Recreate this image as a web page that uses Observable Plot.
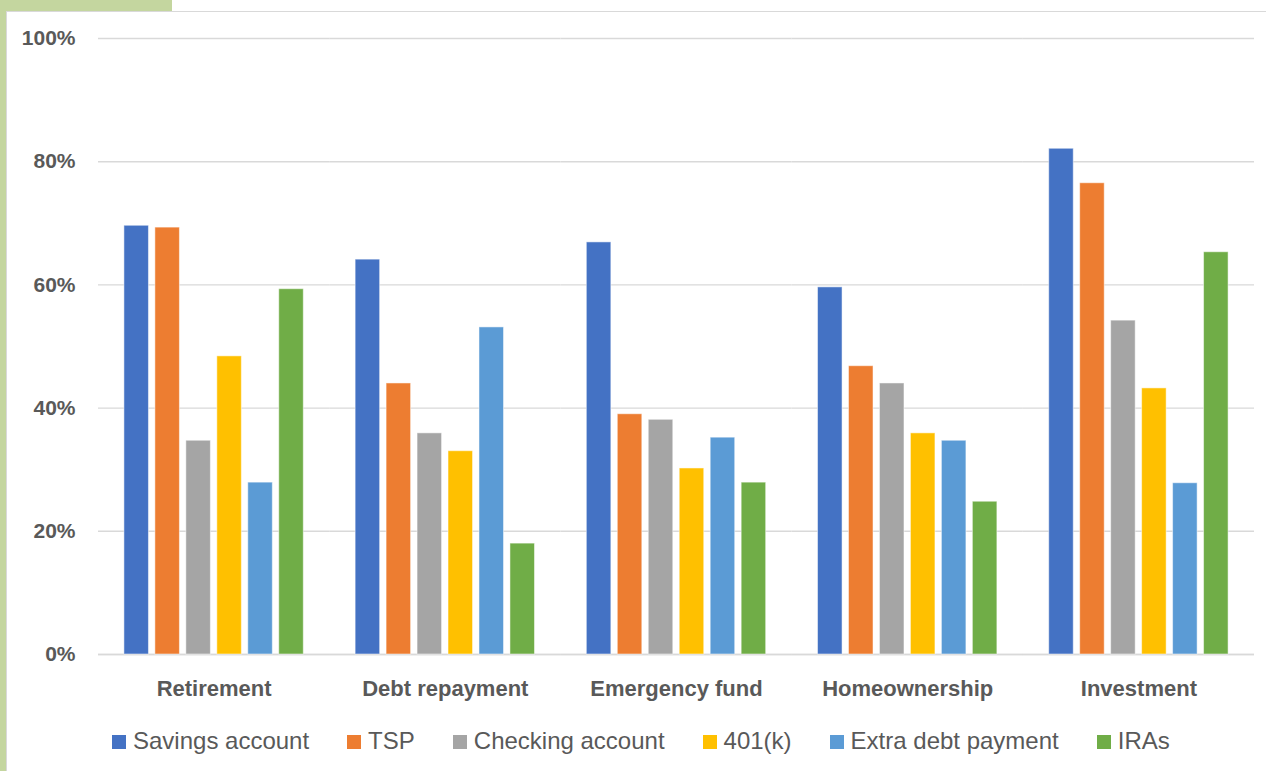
<!DOCTYPE html>
<html>
<head>
<meta charset="utf-8">
<script src="https://cdn.jsdelivr.net/npm/d3@7"></script>
<script src="https://cdn.jsdelivr.net/npm/@observablehq/plot@0.6"></script>
<style>
  html, body { margin: 0; padding: 0; background: #fff; }
  body { width: 1266px; height: 771px; overflow: hidden; position: relative; font-family: "Liberation Sans", Arial, sans-serif; }
  .green-left { position: absolute; left: 0; top: 0; width: 6px; height: 771px; background: #c4d69f; }
  .green-top { position: absolute; left: 0; top: 0; width: 172px; height: 11px; background: #c4d69f; }
  .frame { position: absolute; left: 6px; top: 11px; width: 1280px; height: 800px; border-left: 1.5px solid #d9d9d9; border-top: 1.5px solid #d9d9d9; box-sizing: border-box; }
  #chart { position: absolute; left: 7px; top: 11px; }
  #legend { position: absolute; left: 112px; top: 727px; display: flex; align-items: center; gap: 38px; color: #595959; font-size: 24px; line-height: 28px; white-space: nowrap; }
  #legend .item { display: flex; align-items: center; }
  #legend .sw { width: 14px; height: 14px; margin-right: 7px; margin-top: 2px; }
</style>
</head>
<body>
<div class="green-left"></div>
<div class="green-top"></div>
<div class="frame"></div>
<div id="chart"></div>
<div id="legend"></div>
<script>
const categories = ["Retirement", "Debt repayment", "Emergency fund", "Homeownership", "Investment"];
const series = ["Savings account", "TSP", "Checking account", "401(k)", "Extra debt payment", "IRAs"];
const colors = ["#4472C4", "#ED7D31", "#A5A5A5", "#FFC000", "#5B9BD5", "#70AD47"];
// values (fractions) per series, in category order
const savingsAccount   = [0.696, 0.641, 0.669, 0.596, 0.821];
const tsp              = [0.693, 0.440, 0.390, 0.468, 0.765];
const checkingAccount  = [0.347, 0.359, 0.381, 0.440, 0.542];
const k401             = [0.484, 0.330, 0.302, 0.359, 0.432];
const extraDebtPayment = [0.279, 0.531, 0.352, 0.347, 0.278];
const iras             = [0.593, 0.180, 0.279, 0.248, 0.653];
const yTicks = [0, 0.2, 0.4, 0.6, 0.8, 1.0];

const seriesValues = [savingsAccount, tsp, checkingAccount, k401, extraDebtPayment, iras];
const data = [];
categories.forEach((c, i) => {
  series.forEach((s, j) => data.push({category: c, series: s, value: seriesValues[j][i]}));
});

const chart = Plot.plot({
  width: 1259,
  height: 700,
  marginLeft: 91,
  marginRight: 12,
  marginTop: 27,
  marginBottom: 57,
  style: { fontFamily: '"Liberation Sans", Arial, sans-serif', color: "#595959", background: "transparent" },
  fx: { domain: categories, padding: 0, label: null, round: false },
  x: { domain: series, paddingInner: 0.208, paddingOuter: 0.837, axis: null, round: false },
  y: { domain: [0, 1], label: null },
  color: { domain: series, range: colors },
  marks: [
    Plot.gridY(yTicks, { stroke: "#d9d9d9", strokeOpacity: 1, strokeWidth: 1.4 }),
    Plot.ruleY([0], { stroke: "#d9d9d9", strokeWidth: 1.6 }),
    Plot.barY(data, { fx: "category", x: "series", y: "value", fill: "series", stroke: "#ffffff", strokeOpacity: 0.5, strokeWidth: 1 }),
    Plot.axisY(yTicks, { tickSize: 0, tickPadding: 23, tickFormat: d3.format(".0%"), fontSize: 21, fontWeight: "bold", fill: "#595959", label: null }),
    Plot.axisFx({ anchor: "bottom", tickSize: 0, tickPadding: 26, fontSize: 22, fontWeight: "bold", fill: "#595959", label: null })
  ]
});
document.getElementById("chart").appendChild(chart);

const legend = document.getElementById("legend");
series.forEach((s, j) => {
  const item = document.createElement("div");
  item.className = "item";
  const sw = document.createElement("span");
  sw.className = "sw";
  sw.style.background = colors[j];
  const t = document.createElement("span");
  t.textContent = s;
  item.appendChild(sw);
  item.appendChild(t);
  legend.appendChild(item);
});
</script>
</body>
</html>
